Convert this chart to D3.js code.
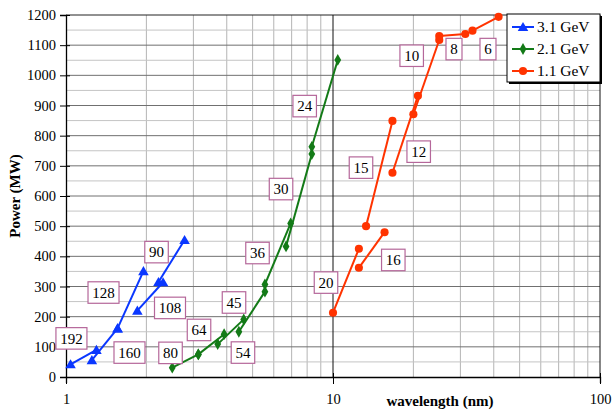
<!DOCTYPE html>
<html>
<head>
<meta charset="utf-8">
<script src="https://cdn.jsdelivr.net/npm/d3@7"></script>
<style>
  html, body { margin: 0; padding: 0; background: #ffffff; }
  svg { display: block; }
  svg text { font-family: "Liberation Serif", "Times New Roman", serif !important; }
</style>
</head>
<body>
<svg id="chart" width="613" height="410"></svg>
<script>
// ---- data: harmonic number, wavelength range (nm) and output power (MW) ----
// 3.1 GeV
const harm31    = [192, 160, 128, 108, 90];
const lamLo31   = [1.04, 1.25, 1.56, 1.85, 2.22];
const lamHi31   = [1.30, 1.56, 1.95, 2.31, 2.78];
const powLo31   = [42, 56, 161, 220, 315];
const powHi31   = [90, 161, 351, 314, 454];

// 2.1 GeV
const harm21    = [80, 64, 54, 45, 36, 30, 24];
const lamLo21   = [2.50, 3.13, 3.70, 4.44, 5.56, 6.67, 8.33];
const lamHi21   = [3.13, 3.91, 4.63, 5.56, 6.94, 8.33, 10.42];
const powLo21   = [31, 75, 109, 150, 307, 433, 763];
const powHi21   = [75, 142, 191, 283, 509, 739, 1051];

// 1.1 GeV
const harm11    = [20, 16, 15, 12, 10, 8, 6];
const lamLo11   = [10.0, 12.5, 13.3, 16.7, 20.0, 25.0, 33.3];
const lamHi11   = [12.5, 15.6, 16.7, 20.8, 25.0, 31.3, 41.7];
const powLo11   = [213, 362, 500, 677, 871, 1130, 1148];
const powHi11   = [425, 480, 849, 932, 1117, 1137, 1194];

// axis ticks
const xTicks = [1, 10, 100];
const yTicks = d3.range(0, 1201, 100);

// ---- label anchors (in data coordinates) ----
const labelAt31 = [[1.048, 128], [1.729, 81], [1.382, 280], [2.452, 229], [2.183, 414]];
const labelAt21 = [[2.463, 80], [3.149, 156], [4.60, 81], [4.258, 247], [5.215, 411], [6.388, 623], [7.834, 898]];
const labelAt11 = [[9.414, 313], [16.82, 388], [12.73, 694], [20.94, 747], [19.71, 1065], [28.39, 1087], [38.06, 1087]];

(function draw() {
  const series = [
    { name: "3.1 GeV", color: "#0a37ff", marker: "triangle", harm: harm31, lamLo: lamLo31, lamHi: lamHi31, powLo: powLo31, powHi: powHi31, labels: labelAt31 },
    { name: "2.1 GeV", color: "#137a17", marker: "diamond",  harm: harm21, lamLo: lamLo21, lamHi: lamHi21, powLo: powLo21, powHi: powHi21, labels: labelAt21 },
    { name: "1.1 GeV", color: "#ff3300", marker: "circle",   harm: harm11, lamLo: lamLo11, lamHi: lamHi11, powLo: powLo11, powHi: powHi11, labels: labelAt11 }
  ];

  const svg = d3.select("#chart");
  const pl = 66, pr = 600, pt = 15, pb = 377;

  const x = d3.scaleLog().domain([1, 100]).range([pl, pr]);
  const y = d3.scaleLinear().domain([0, 1200]).range([pb, pt]);

  // gridlines
  const grid = svg.append("g");
  const minorX = [];
  [1, 10].forEach(d => { for (let k = 2; k <= 9; k++) minorX.push(d * k); });
  grid.selectAll("line.vminor").data(minorX).join("line")
    .attr("x1", d => x(d)).attr("x2", d => x(d))
    .attr("y1", pt).attr("y2", pb)
    .attr("stroke", "#b4b4b4").attr("stroke-width", 1);

  const minorY = d3.range(50, 1200, 100);
  grid.selectAll("line.hminor").data(minorY).join("line")
    .attr("x1", pl).attr("x2", pr)
    .attr("y1", d => y(d)).attr("y2", d => y(d))
    .attr("stroke", "#c4c4c4").attr("stroke-width", 1);

  grid.selectAll("line.hmajor").data(yTicks.filter(d => d > 0)).join("line")
    .attr("x1", pl).attr("x2", pr)
    .attr("y1", d => y(d)).attr("y2", d => y(d))
    .attr("stroke", d => d === 1200 ? "#222" : "#707070").attr("stroke-width", 1);

  grid.selectAll("line.vmajor").data([10, 100]).join("line")
    .attr("x1", d => x(d)).attr("x2", d => x(d))
    .attr("y1", pt).attr("y2", pb)
    .attr("stroke", "#111").attr("stroke-width", 1);

  // axes
  const yAxis = d3.axisLeft(y).tickValues(yTicks).tickSize(6).tickPadding(4).tickFormat(d3.format("d"));
  const gy = svg.append("g").attr("transform", `translate(${pl},0)`).call(yAxis);
  gy.attr("font-family", null);
  gy.select(".domain").attr("stroke", "#000").attr("stroke-width", 1.3);
  gy.selectAll(".tick line").attr("stroke", "#000").attr("x2", -6).attr("x1", 4);
  gy.selectAll(".tick text").style("font-size", "14.5px").attr("fill", "#000");

  const xAxis = d3.axisBottom(x).tickValues(xTicks).tickSize(6).tickPadding(11).tickFormat(d3.format("d"));
  const gx = svg.append("g").attr("transform", `translate(0,${pb})`).call(xAxis);
  gx.attr("font-family", null);
  gx.select(".domain").attr("stroke", "#000").attr("stroke-width", 1.3);
  gx.selectAll(".tick line").attr("stroke", "#000").attr("y1", -4).attr("y2", 7);
  gx.selectAll(".tick text").style("font-size", "14.5px").attr("fill", "#000");

  // axis titles
  svg.append("text")
    .attr("x", 440).attr("y", 406)
    .attr("text-anchor", "middle")
    .attr("font-weight", "bold").attr("font-size", 15)
    .text("wavelength (nm)");

  svg.append("text")
    .attr("transform", `translate(20,${(pt + pb) / 2}) rotate(-90)`)
    .attr("text-anchor", "middle")
    .attr("font-weight", "bold").attr("font-size", 15)
    .text("Power (MW)");

  // marker shapes
  const symbolFor = {
    triangle: d3.symbol().type(d3.symbolTriangle).size(48),
    diamond:  d3.symbol().type(d3.symbolDiamond).size(40),
    circle:   d3.symbol().type(d3.symbolCircle).size(52)
  };

  const lineGen = d3.line().x(d => x(d.lam)).y(d => y(d.p));

  series.forEach(s => {
    const segs = s.harm.map((h, i) => [
      { lam: s.lamLo[i], p: s.powLo[i] },
      { lam: s.lamHi[i], p: s.powHi[i] }
    ]);
    const g = svg.append("g");
    g.selectAll("path.seg").data(segs).join("path")
      .attr("d", lineGen)
      .attr("fill", "none").attr("stroke", s.color).attr("stroke-width", 2);
    g.selectAll("path.mk").data(segs.flat()).join("path")
      .attr("d", symbolFor[s.marker])
      .attr("transform", d => `translate(${x(d.lam)},${y(d.p) + (s.marker === "triangle" ? 1 : 0)})`)
      .attr("fill", s.color);
  });

  // harmonic labels in boxes
  series.forEach(s => {
    const g = svg.append("g");
    s.harm.forEach((h, i) => {
      const [lx, ly] = s.labels[i];
      const cx = x(lx), cy = y(ly);
      const txt = String(h);
      const w = txt.length * 7.5 + 8.5, hgt = 21.5;
      g.append("rect")
        .attr("x", cx - w / 2).attr("y", cy - hgt / 2)
        .attr("width", w).attr("height", hgt)
        .attr("fill", "#ffffff").attr("stroke", "#b5679a").attr("stroke-width", 1.2);
      g.append("text")
        .attr("x", cx).attr("y", cy + 5.3)
        .attr("text-anchor", "middle").attr("font-size", 15).attr("fill", "#000")
        .text(txt);
    });
  });

  // legend
  const lg = svg.append("g").attr("transform", "translate(507,14)");
  lg.append("rect").attr("x", 2).attr("y", 2).attr("width", 93).attr("height", 68).attr("fill", "#000");
  lg.append("rect").attr("x", 0).attr("y", 0).attr("width", 93).attr("height", 68)
    .attr("fill", "#fff").attr("stroke", "#000").attr("stroke-width", 1);
  series.forEach((s, i) => {
    const yy = 13 + i * 22;
    lg.append("line").attr("x1", 5).attr("x2", 27).attr("y1", yy).attr("y2", yy)
      .attr("stroke", s.color).attr("stroke-width", 2);
    lg.append("path").attr("d", symbolFor[s.marker])
      .attr("transform", `translate(16,${yy + (s.marker === "triangle" ? 1 : 0)})`)
      .attr("fill", s.color);
    lg.append("text").attr("x", 30).attr("y", yy + 5.3)
      .attr("font-size", 15.5).attr("fill", "#000").text(s.name);
  });
})();
</script>
</body>
</html>
